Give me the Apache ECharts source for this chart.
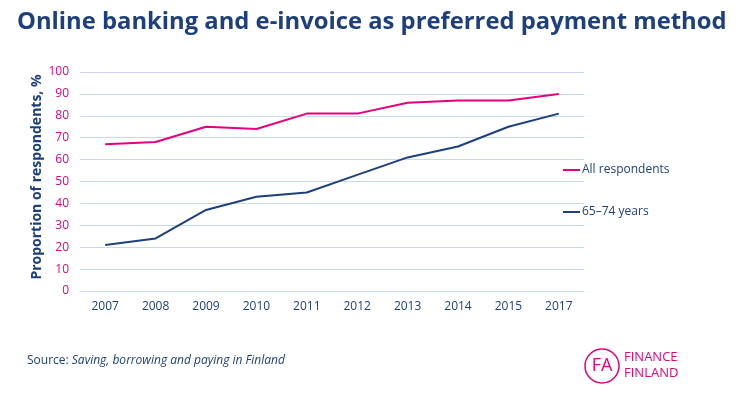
<!DOCTYPE html>
<html><head><meta charset="utf-8">
<script src="https://cdn.jsdelivr.net/npm/echarts@6/dist/echarts.min.js"></script>
<style>html,body{margin:0;padding:0;background:#fff}#c{width:740px;height:394px}</style>
</head><body><div id="c"></div>
<script>
const years = ['2007','2008','2009','2010','2011','2012','2013','2014','2015','2017'];
const allRespondents = [67, 68, 75, 74, 81, 81, 86, 87, 87, 90];
const age6574 = [21, 24, 37, 43, 45, 53, 61, 66, 75, 81];
const seriesNames = ['All respondents', '65\u201374 years'];
const titleText = 'Online banking and e-invoice as preferred payment method';
const yAxisName = 'Proportion of respondents, %';

const BLUE = '#1d3f7d', PINK = '#e5007d';
const chart = echarts.init(document.getElementById('c'));
chart.setOption({
  animation: false,
  title: { text: titleText, left: 12, top: 5,
    textStyle: { fontFamily: 'Open Sans', fontWeight: 'bold', fontSize: 23.8, color: BLUE } },
  grid: { left: 80, right: 156, top: 72, bottom: 103, containLabel: false },
  legend: { orient: 'vertical', left: 558, top: 159, itemGap: 30, icon: 'rect', itemWidth: 17, itemHeight: 2,
    textStyle: { fontFamily: 'Open Sans', fontSize: 12, color: BLUE, padding: [0,0,0,-3] },
    data: seriesNames },
  xAxis: { type: 'category', data: years, boundaryGap: true,
    axisLine: { show: false }, axisTick: { show: false },
    axisLabel: { color: BLUE, fontFamily: 'Open Sans', fontSize: 12, margin: 10 } },
  yAxis: { type: 'value', min: 0, max: 100, interval: 10,
    axisLine: { show: false }, axisTick: { show: false },
    axisLabel: { color: PINK, fontFamily: 'Open Sans', fontSize: 12, margin: 11 },
    splitLine: { lineStyle: { color: '#c6d9f1', width: 1 } } },
  series: [
    { name: seriesNames[0], type: 'line', data: allRespondents, showSymbol: false, symbol: 'none',
      lineStyle: { color: PINK, width: 2 }, itemStyle: { color: PINK } },
    { name: seriesNames[1], type: 'line', data: age6574, showSymbol: false, symbol: 'none',
      lineStyle: { color: BLUE, width: 2 }, itemStyle: { color: BLUE } }
  ],
  graphic: [
    { type: 'text', x: 37, y: 177, rotation: Math.PI / 2, style: { text: yAxisName, fill: BLUE,
        fontFamily: 'Open Sans', fontWeight: 'bold', fontSize: 14, align: 'center', verticalAlign: 'middle' } },
    { type: 'text', left: 27, top: 355, style: { rich: {
        a: { fontFamily: 'Open Sans', fontSize: 12, fill: BLUE },
        b: { fontFamily: 'Open Sans', fontSize: 12, fill: BLUE, fontStyle: 'italic' } },
        text: '{a|Source: }{b|Saving, borrowing and paying in Finland}' } },
    { type: 'circle', shape: { cx: 602, cy: 366, r: 17 }, style: { fill: 'none', stroke: PINK, lineWidth: 1.5 } },
    { type: 'text', x: 602, y: 366, style: { text: 'FA', fill: PINK, fontFamily: 'Open Sans', fontSize: 18,
        align: 'center', verticalAlign: 'middle' } },
    { type: 'text', x: 624, y: 349, style: { text: 'FINANCE\nFINLAND', fill: PINK, fontFamily: 'Open Sans',
        fontSize: 13, lineHeight: 16 } }
  ]
});
</script></body></html>
